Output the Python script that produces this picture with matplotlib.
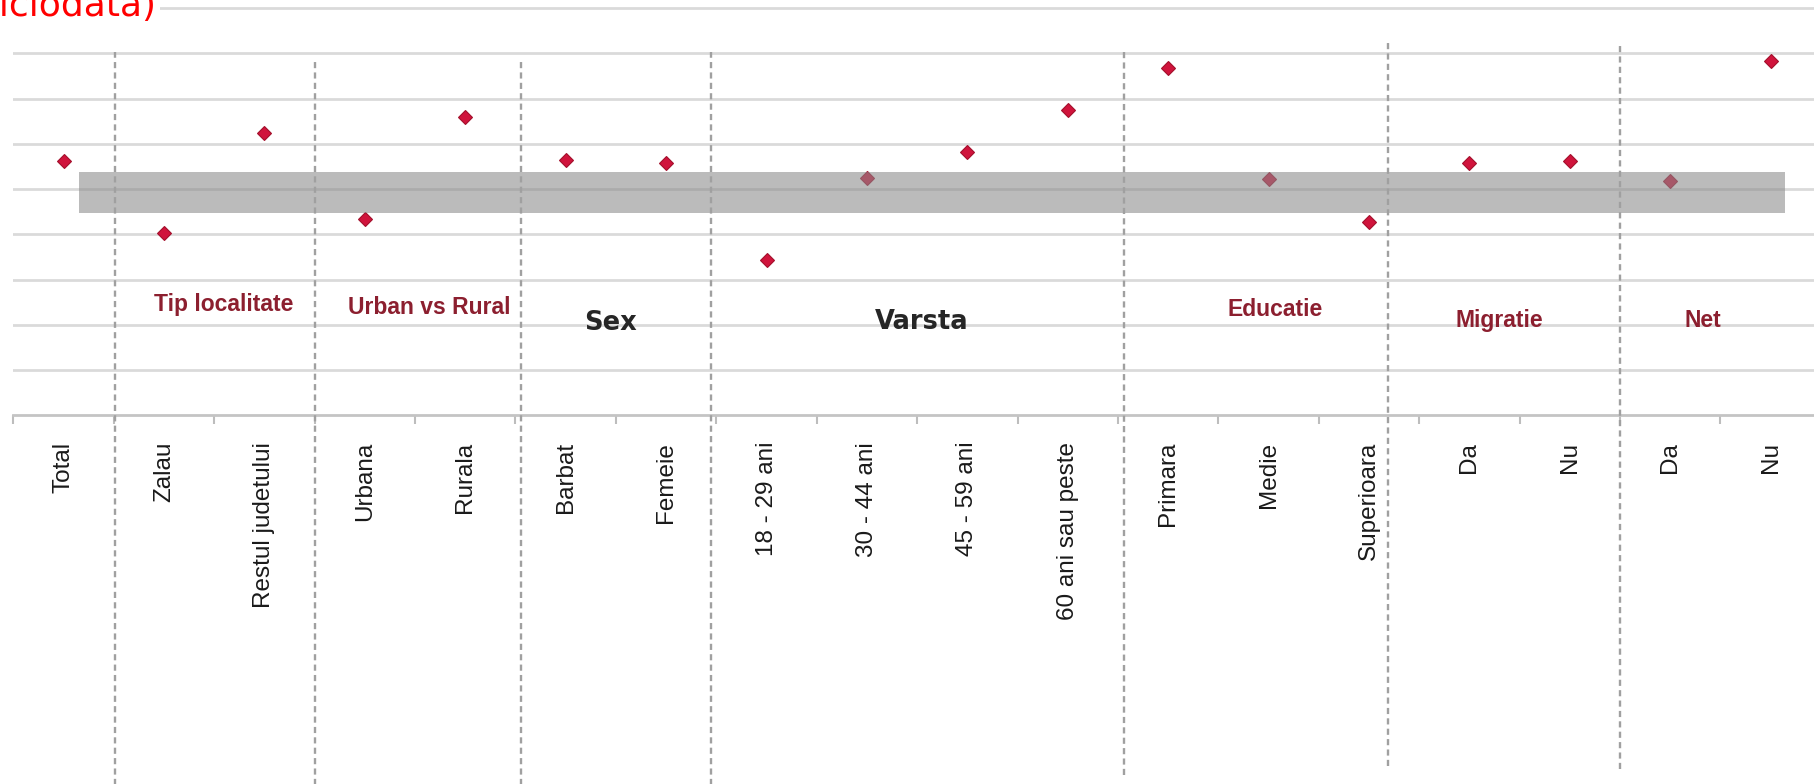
import numpy as np
import matplotlib
matplotlib.use('Agg')
import matplotlib.pyplot as plt
from matplotlib.ticker import FixedLocator

# ---- data ----
categories = ['Total', 'Zalau', 'Restul judetului', 'Urbana', 'Rurala', 'Barbat', 'Femeie',
              '18 - 29 ani', '30 - 44 ani', '45 - 59 ani', '60 ani sau peste',
              'Primara', 'Medie', 'Superioara', 'Da', 'Nu', 'Da', 'Nu']
values = [56.3, 40.4, 62.5, 43.5, 65.9, 56.4, 55.8,
          34.3, 52.5, 58.1, 67.5,
          76.8, 52.2, 42.7, 55.7, 56.3, 51.9, 78.3]

group_names = ['Tip localitate', 'Urban vs Rural', 'Sex', 'Varsta', 'Educatie', 'Migratie', 'Net']
band_low, band_high = 44.7, 53.8
title_text = 'niciodata)'

# ---- layout ----
label_x = [1.59, 3.64, 5.45, 8.55, 12.07, 14.30, 16.32]
label_y = [24.5, 23.8, 20.5, 20.6, 23.3, 21.0, 21.0]
dark_groups = {'Sex', 'Varsta'}
sep_x = [0.507, 2.50, 4.55, 6.45, 10.56, 13.19, 15.50]
sep_top = [80.3, 78.5, 78.5, 80.3, 80.3, 82.6, 81.8]
sep_bottom = [-82, -82, -82, -82, -79.5, -77.5, -78.2]
band_x = (0.15, 17.14)

plt.rcParams['font.family'] = ['Liberation Sans', 'DejaVu Sans']

fig = plt.figure(figsize=(18.14, 7.84), dpi=100)
ax = fig.add_axes([0.00739, 0.4702, 0.9964, 0.5252])

x = np.arange(len(categories))
ax.set_xlim(-0.5, len(categories) - 0.5)
ax.set_ylim(0, 91)

# horizontal gridlines
for gy in range(10, 100, 10):
    ax.axhline(gy, color='#dadada', lw=2.0, zorder=0)

for s in ['top', 'right', 'left']:
    ax.spines[s].set_visible(False)
ax.spines['bottom'].set_color('#c4c4c4')
ax.spines['bottom'].set_linewidth(2.0)
ax.set_yticks([])

# labels centred, tick marks on category boundaries
ax.set_xticks(x)
ax.set_xticklabels(categories, rotation=90, fontsize=17.5, color='#1a1a1a')
ax.tick_params(axis='x', which='major', length=0, pad=19)
ax.xaxis.set_minor_locator(FixedLocator(np.arange(-0.5, len(categories), 1.0)))
ax.tick_params(axis='x', which='minor', length=6.5, width=1.5, color='#bdbdbd', direction='out')

# points
ax.plot(x, values, linestyle='none', marker='D', markersize=7,
        markerfacecolor='#d0143c', markeredgecolor='#a3102c', markeredgewidth=0.8, zorder=3)

# grey band drawn over the chart
ax.fill_between(band_x, band_low, band_high, color='#8a8a8a', alpha=0.58, lw=0, zorder=4)

# dashed separators running down through the labels
for sx, t, b in zip(sep_x, sep_top, sep_bottom):
    ax.vlines(sx, b, t, colors='#a0a0a0', linestyles=(0, (2.6, 1.8)), lw=1.7,
              clip_on=False, zorder=5)

# group names
for name, gx, gy in zip(group_names, label_x, label_y):
    if name in dark_groups:
        ax.text(gx, gy, name, ha='center', va='center', fontsize=18.5, fontweight='bold',
                color='#262626', family='DejaVu Sans', zorder=6)
    else:
        ax.text(gx, gy, name, ha='center', va='center', fontsize=16.5, fontweight='bold',
                color='#8c1f2f', zorder=6)

# cut-off title in the corner
fig.text(0.0865, 0.9796, title_text, ha='right', va='baseline', fontsize=26,
         color='#ff0000', family='DejaVu Sans',
         bbox=dict(facecolor='white', edgecolor='none', pad=2))

fig.savefig('out.png', dpi=100)
